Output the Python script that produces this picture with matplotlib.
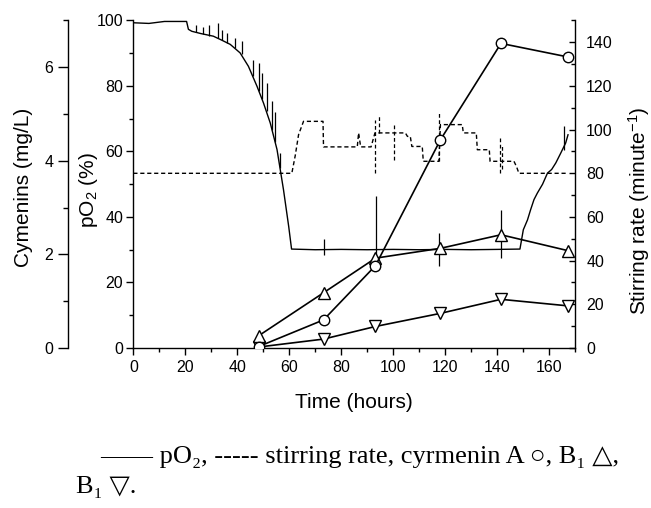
import matplotlib
matplotlib.use("Agg")
import matplotlib.pyplot as plt
from matplotlib.ticker import MultipleLocator

plt.rcParams['font.family'] = ['Liberation Sans', 'DejaVu Sans']
plt.rcParams['mathtext.fontset'] = 'custom'
plt.rcParams['mathtext.rm'] = 'Liberation Sans'
plt.rcParams['mathtext.it'] = 'Liberation Sans:italic'

# pO2 trace (%)
t_po2 = [0, 6, 12, 20.5, 21.2, 22.5, 26, 30.8, 34, 37.3, 41.1, 44.3, 47.6, 50.1, 52.7,
         55.3, 57.8, 59.8, 60.9, 70, 80, 90, 100, 110, 120, 130, 140, 148.8, 150.1,
         151.7, 152.9, 154.2, 155.5, 157.5, 159.4, 161, 162.6, 164.5, 166.4, 167.3]
po2 = [99.3, 99.1, 99.7, 99.7, 97.3, 96.7, 96.0, 95.2, 94.0, 92.7, 90.1, 86.0, 79.9, 74.8, 68.7,
       60.6, 48.3, 37.1, 30.2, 30.0, 30.1, 30.0, 30.1, 30.0, 30.1, 30.0, 30.1, 30.2, 36.1,
       39.1, 42.2, 45.3, 47.3, 50.0, 53.4, 54.5, 56.5, 59.5, 62.6, 65.1]
# noise spikes on the pO2 trace
spk_t = [24, 27, 29, 32.4, 34, 36, 39, 41.8, 46, 48.2, 49.5, 51.4, 53.4, 54.5, 56.6,
         73.2, 93.4, 117.6, 141.6, 165.8]
spk_top = [98.5, 98.0, 98.5, 99.1, 97.0, 96.2, 94.5, 93.7, 88.0, 87.1, 84.0, 80.9, 75.3, 72.0, 59.5,
           33.3, 46.3, 35.0, 42.2, 67.7]
spk_bot = [96.4, 95.8, 95.3, 94.8, 94.0, 93.2, 91.5, 89.8, 83.0, 78.5, 76.0, 72.5, 66.5, 63.0, 55.0,
           28.5, 27.0, 24.9, 27.4, 60.6]

# stirring rate (1/min)
t_stir = [0, 61, 62.3, 63.6, 65.5, 73, 73.2, 86.2, 86.7, 87.5, 91.5, 93, 104.7, 105.5, 106.6,
          107.2, 111.2, 111.6, 117.6, 118.2, 126.6, 127, 132, 132.4, 137, 137.3, 146.5, 147.5,
          148.4, 167]
stir = [80, 80, 88, 97.7, 103.8, 103.8, 92.1, 92.1, 98.5, 92.1, 92.1, 98.5, 98.5, 96.9, 96.9,
        92.3, 92.3, 85.5, 85.5, 102.3, 102.3, 98.5, 98.5, 90.8, 90.8, 85.5, 85.5, 83,
        80, 80]
stir_spk_t = [93.2, 94.5, 100.5, 117.8, 141.3, 142.0]
stir_spk_lo = [80, 98.5, 86.2, 85.5, 80, 82]
stir_spk_hi = [104.6, 106.9, 103, 107.8, 96, 93]

# cymenins (mg/L)
t_cym = [48.2, 73.2, 93.2, 118.2, 141.5, 167.3]
cym_a = [0.03, 0.60, 1.76, 4.45, 6.51, 6.22]
cym_b1 = [0.26, 1.18, 1.92, 2.13, 2.42, 2.08]
cym_b1b = [0.02, 0.19, 0.46, 0.74, 1.04, 0.90]

fig = plt.figure(figsize=(6.51, 5.08), dpi=100)
ax = fig.add_axes([0.2048, 0.315, 0.6785, 0.6447])
ax2 = ax.twinx()
ax3 = ax.twinx()

lw_sp = 1.0
ax.plot(t_po2, po2, color='black', lw=1.0)
ax.vlines(spk_t, spk_bot, spk_top, color='black', lw=0.9)
ax.set_xlim(0, 170)
ax.set_ylim(0, 100)
ax.xaxis.set_major_locator(MultipleLocator(20))
ax.xaxis.set_minor_locator(MultipleLocator(10))
ax.yaxis.set_major_locator(MultipleLocator(20))
ax.yaxis.set_minor_locator(MultipleLocator(10))
ax.tick_params(which='major', direction='out', length=4.8, width=lw_sp, labelsize=11.5, pad=2.6)
ax.tick_params(which='minor', direction='out', length=3, width=lw_sp)
ax.tick_params(axis='x', which='major', pad=4)
ax.spines['top'].set_visible(False)
ax.spines['right'].set_visible(False)
for s in ['left', 'bottom']:
    ax.spines[s].set_linewidth(lw_sp)
ax.set_xlabel('Time (hours)', fontsize=15)
ax.xaxis.set_label_coords(0.5, -0.1375)
ax.set_ylabel('pO$_2$ (%)', fontsize=15, va='bottom')
ax.yaxis.set_label_coords(-0.075, 0.483)

ax2.plot(t_stir, stir, color='black', lw=1.0, ls=(0, (3, 2)))
ax2.vlines(stir_spk_t, stir_spk_lo, stir_spk_hi, color='black', lw=0.9, linestyles=(0, (3, 2)))
ax2.set_ylim(0, 150)
ax2.yaxis.set_major_locator(MultipleLocator(20))
ax2.yaxis.set_minor_locator(MultipleLocator(10))
ax2.tick_params(which='major', direction='in', length=4.3, width=lw_sp, labelsize=11.5, pad=8)
ax2.tick_params(which='minor', direction='in', length=3, width=lw_sp)
for s in ['top', 'left', 'bottom']:
    ax2.spines[s].set_visible(False)
ax2.spines['right'].set_linewidth(lw_sp)
ax2.set_ylabel('Stirring rate (minute$^{-1}$)', fontsize=15, va='top')
ax2.yaxis.set_label_coords(1.115, 0.42)

mk = dict(color='black', lw=1.2, mfc='white', mec='black', mew=1.0)
ax3.plot(t_cym, cym_b1b, marker='v', ms=8.5, **mk)
ax3.plot(t_cym, cym_b1, marker='^', ms=8.5, **mk)
ax3.plot(t_cym, cym_a, marker='o', ms=7.5, **mk)
ax3.set_ylim(0, 7)
ax3.yaxis.tick_left()
ax3.yaxis.set_label_position('left')
ax3.spines['left'].set_position(('axes', -65 / 441.7))
for s in ['top', 'right', 'bottom']:
    ax3.spines[s].set_visible(False)
ax3.spines['left'].set_linewidth(lw_sp)
ax3.yaxis.set_major_locator(MultipleLocator(2))
ax3.yaxis.set_minor_locator(MultipleLocator(1))
ax3.tick_params(which='major', direction='out', length=7, width=lw_sp, labelsize=11.5, pad=3.8)
ax3.tick_params(which='minor', direction='out', length=3.5, width=lw_sp)
ax3.set_ylabel('Cymenins (mg/L)', fontsize=15, va='bottom')
ax3.yaxis.set_label_coords(-0.227, 0.489)

cap_font = ['Liberation Serif', 'DejaVu Serif', 'DejaVu Sans']
fig.text(100 / 651, 1 - 457 / 508, '—— pO₂, ----- stirring rate, cyrmenin A ○, B₁ △,',
         family=cap_font, fontsize=19, va='center', ha='left')
fig.text(76 / 651, 1 - 487 / 508, 'B₁ ▽.', family=cap_font, fontsize=19, va='center', ha='left')

fig.savefig('out.png', dpi=100)
